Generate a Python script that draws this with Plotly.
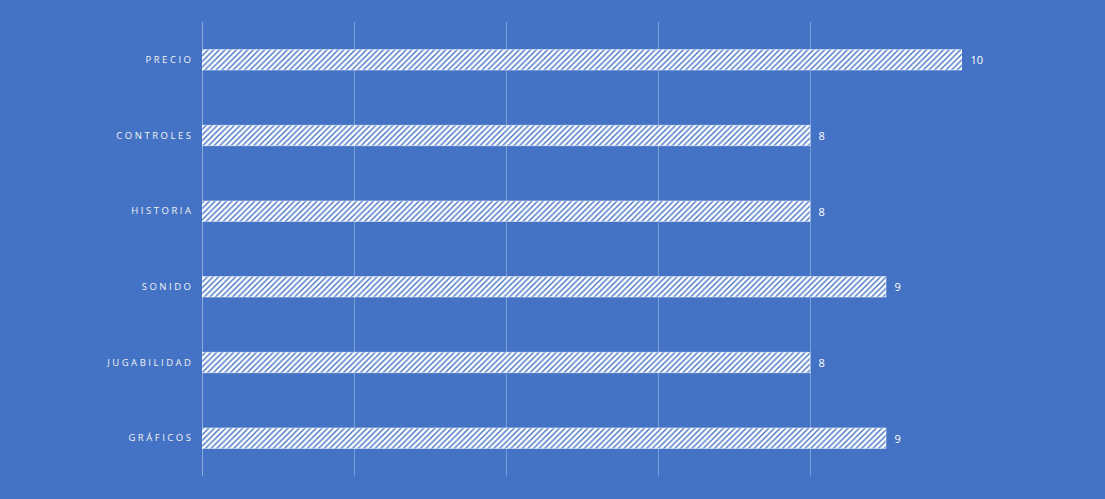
import plotly.graph_objects as go

categories = ["GRÁFICOS", "JUGABILIDAD", "SONIDO", "HISTORIA", "CONTROLES", "PRECIO"]
values = [9, 8, 9, 8, 8, 10]
tick_vals = [0, 2, 4, 6, 8, 10]

def spaced(s):
    return "\u2009\u200a".join(list(s))

bg = "#4472C4"

fig = go.Figure(go.Bar(
    y=categories,
    x=values,
    orientation="h",
    width=0.27,
    marker=dict(
        color="white",
        line=dict(color="white", width=0.5),
        pattern=dict(shape="/", fgcolor=bg, bgcolor="white", size=4, solidity=0.35, fillmode="replace"),
    ),
    text=["\u2002" + str(v) for v in values],
    textposition="outside",
    cliponaxis=False,
    textfont=dict(color="#FFFFFF", size=11, family="Open Sans"),
))

fig.update_layout(
    width=1105, height=499,
    margin=dict(l=202, r=143, t=22, b=23),
    paper_bgcolor=bg, plot_bgcolor=bg,
    showlegend=False,
    xaxis=dict(
        range=[0, 10], tickvals=tick_vals, showticklabels=False,
        showgrid=True, gridcolor="rgba(255,255,255,0.3)", gridwidth=1,
        zeroline=True, zerolinecolor="rgba(255,255,255,0.4)", zerolinewidth=1,
        showline=False,
    ),
    yaxis=dict(
        categoryorder="array", categoryarray=categories,
        tickvals=categories, ticktext=[spaced(c) for c in categories],
        tickfont=dict(color="#F2F2F2", size=9.5, family="Open Sans"),
        ticks="", ticklen=0, ticklabelstandoff=10, showgrid=False, showline=False,
        range=[-0.5, 5.5],
    ),
)

fig.write_html("out.html")
